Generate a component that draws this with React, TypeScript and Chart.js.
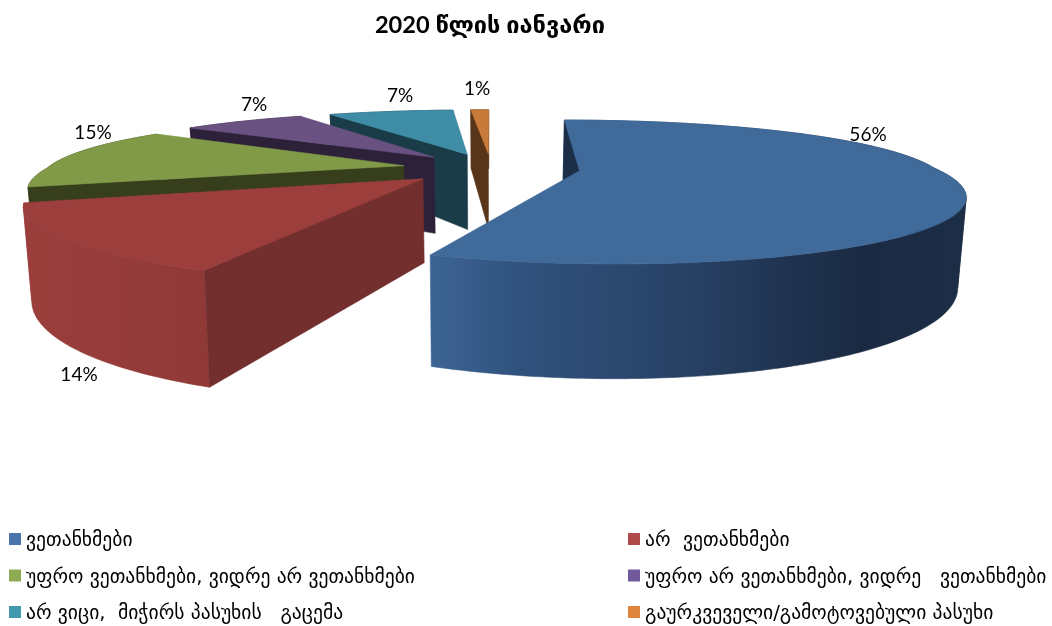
import React, { useEffect, useRef } from "react";
import { Chart, registerables } from "chart.js";

Chart.register(...registerables);

const title = "2020 წლის იანვარი";
const categories = [
  "ვეთანხმები",
  "არ  ვეთანხმები",
  "უფრო ვეთანხმები, ვიდრე არ ვეთანხმები",
  "უფრო არ ვეთანხმები, ვიდრე   ვეთანხმები",
  "არ ვიცი,  მიჭირს პასუხის   გაცემა",
  "გაურკვეველი/გამოტოვებული პასუხი",
];
const values = [56, 14, 15, 7, 7, 1];
const legendColors = ["#4A74AC", "#AE4B4A", "#8CAB52", "#72599B", "#4399B0", "#DE8640"];
const topColors = ["#406A9A", "#9B3E3C", "#809A48", "#695282", "#3E8CA5", "#C87A3A"];
const startWallColors = ["#1C2F47", "#732E2E", "#373E1C", "#2D213A", "#1A3C48", "#583418"];
const arcWallStops: [number, string][][] = [
  [[430, "rgb(61,100,148)"], [520, "rgb(48,82,125)"], [680, "rgb(40,66,102)"], [860, "rgb(26,42,66)"], [965, "rgb(28,46,70)"]],
  [[20, "rgb(155,62,60)"], [210, "rgb(143,57,55)"]],
  [[0, "rgb(55,62,28)"], [1052, "rgb(55,62,28)"]],
  [[0, "rgb(45,33,58)"], [1052, "rgb(45,33,58)"]],
  [[0, "rgb(26,60,72)"], [1052, "rgb(26,60,72)"]],
  [[0, "rgb(88,52,24)"], [1052, "rgb(88,52,24)"]],
];
const labelPos = [[868, 135], [79, 375], [93, 133], [254, 105], [400, 96], [477, 89]];

const FONT = "Lato, 'DejaVu Sans', sans-serif";
const GEORGIAN = "'DejaVu Sans', sans-serif";
const EXPLODE_X = 0.25, EXPLODE_Z = 0.235;
const CX = 491, A = 356, HORIZON = -53, B = 221, K = 0.29, K_BACK = 0.2, H = 80, CONV = 0.982;

const proj = (x: number, z: number) => {
  const w = 1 + K * z;
  const wx = 1 + (z > 0 ? K_BACK : K) * z;
  const sx = CX + (A * x) / wx;
  const sy = HORIZON + B / w;
  return { sx, sy, bx: CX + (sx - CX) * CONV, by: sy + H / w };
};

const poly = (ctx: CanvasRenderingContext2D, pts: number[][], color: any) => {
  ctx.beginPath();
  pts.forEach((p, i) => (i ? ctx.lineTo(p[0], p[1]) : ctx.moveTo(p[0], p[1])));
  ctx.closePath();
  ctx.fillStyle = color;
  ctx.strokeStyle = color;
  ctx.lineWidth = 0.6;
  ctx.fill();
  ctx.stroke();
};

const pie3d = {
  id: "pie3d",
  beforeDatasetDraw(chart: any) {
    const ctx: CanvasRenderingContext2D = chart.ctx;
    const arcs = chart.getDatasetMeta(0).data;
    for (const i of [5, 4, 3, 2, 0, 1]) {
      const a0 = arcs[i].startAngle + Math.PI / 2;
      const a1 = arcs[i].endAngle + Math.PI / 2;
      const mid = (a0 + a1) / 2;
      const ox = EXPLODE_X * Math.sin(mid);
      const oz = EXPLODE_Z * Math.cos(mid);
      const n = Math.max(4, Math.ceil((a1 - a0) * 60));
      const rim = [];
      for (let j = 0; j <= n; j++) {
        const a = a0 + ((a1 - a0) * j) / n;
        rim.push(proj(ox + Math.sin(a), oz + Math.cos(a)));
      }
      const apex = proj(ox, oz);
      const stops = arcWallStops[i];
      const x0 = stops[0][0], x1 = stops[stops.length - 1][0];
      const grad = ctx.createLinearGradient(x0, 0, x1, 0);
      stops.forEach(([x, c]) => grad.addColorStop((x - x0) / (x1 - x0), c));
      // Split the rim into runs that move one way across the screen, so each
      // run of the curved wall is one simple polygon with no seams.
      let runStart = 0;
      for (let j = 1; j <= n; j++) {
        const turns = j < n && (rim[j].sx - rim[j - 1].sx) * (rim[j + 1].sx - rim[j].sx) < 0;
        if (turns || j === n) {
          const run = rim.slice(runStart, j + 1);
          poly(ctx, [
            ...run.map((p) => [p.sx, p.sy]),
            ...run.slice().reverse().map((p) => [p.bx, p.by]),
          ], grad);
          runStart = j;
        }
      }
      const s = rim[0];
      poly(ctx, [[apex.sx, apex.sy], [s.sx, s.sy], [s.bx, s.by], [apex.bx, apex.by]], startWallColors[i]);
      poly(ctx, [[apex.sx, apex.sy], ...rim.map((p) => [p.sx, p.sy])], topColors[i]);
    }
    return false;
  },
  afterDraw(chart: any) {
    const ctx: CanvasRenderingContext2D = chart.ctx;
    ctx.save();
    ctx.fillStyle = "#000";
    ctx.textBaseline = "middle";
    ctx.textAlign = "center";
    ctx.font = `19px ${FONT}`;
    const total = values.reduce((a, b) => a + b, 0);
    values.forEach((v, i) => {
      ctx.fillText(`${Math.round((v / total) * 100)}%`, labelPos[i][0], labelPos[i][1]);
    });
    ctx.textAlign = "left";
    ctx.font = `19.6px ${GEORGIAN}`;
    categories.forEach((c, i) => {
      const col = i % 2;
      const row = Math.floor(i / 2);
      const x = col ? 628 : 9;
      const y = 540 + row * 36.5;
      ctx.fillStyle = legendColors[i];
      ctx.fillRect(x, y - 7, 12, 12);
      ctx.fillStyle = "#000";
      ctx.fillText(c, x + 17, y + 1);
    });
    ctx.restore();
  },
};

export default function App() {
  const ref = useRef<HTMLCanvasElement>(null);
  useEffect(() => {
    const chart = new Chart(ref.current!, {
      type: "pie",
      data: {
        labels: categories,
        datasets: [{ data: values, backgroundColor: topColors, borderWidth: 0 }],
      },
      options: {
        animation: false,
        responsive: false,
        layout: { padding: { right: 72, top: 11 } },
        plugins: {
          legend: { display: false },
          tooltip: { enabled: false },
          title: {
            display: true,
            text: title,
            color: "#000",
            font: { family: FONT, size: 23.6, weight: "bold" },
            padding: 0,
          },
        },
      },
      plugins: [pie3d],
    } as any);
    return () => chart.destroy();
  }, []);
  return (
    <div style={{ position: "fixed", left: 0, top: 0, width: 1052, height: 626, background: "#fff" }}>
      <canvas ref={ref} width={1052} height={626} style={{ display: "block" }} />
    </div>
  );
}
